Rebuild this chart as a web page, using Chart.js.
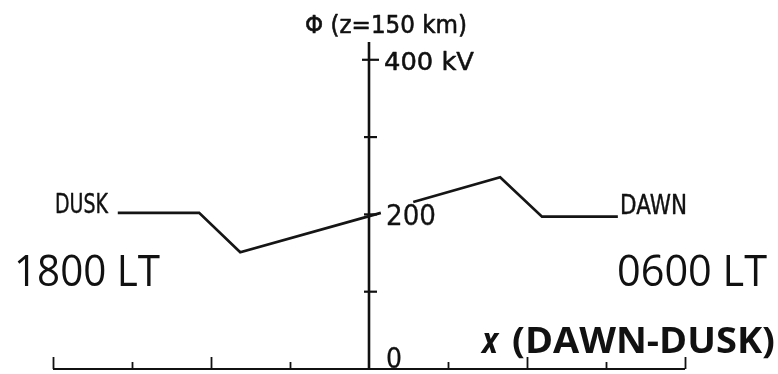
<!DOCTYPE html>
<html>
<head>
<meta charset="utf-8">
<script src="https://cdn.jsdelivr.net/npm/chart.js@4"></script>
<style>
  html, body { margin: 0; padding: 0; background: #fff; }
  #wrap { width: 778px; height: 374px; }
</style>
</head>
<body>
<div id="wrap"><canvas id="c" width="778" height="374"></canvas></div>
<script>
// Electric potential at z = 150 km along the dawn-dusk line (x in tick units, phi in kV)
const duskX   = [-3.18, -2.15, -1.63, 0.15];
const duskPhi = [202, 202, 151, 202];
const dawnX   = [0.56, 1.66, 2.19, 3.15];
const dawnPhi = [216, 248, 197, 197];

// Axis ticks
const xTicks      = [-4, -3, -2, -1, 1, 2, 3, 4];
const xMajorTicks = [-4, -2, 2, 4];
const yTicks      = [100, 200, 300, 400];
const yTickLabels = ['', '200', '', '400 kV'];

const toPoints = (xs, ys) => xs.map((x, i) => ({ x, y: ys[i] }));

// Draw text stretched/squeezed to a given width, left edge at x, baseline at y
function fitText(ctx, text, x, y, width, font, weight) {
  ctx.save();
  ctx.font = font;
  const w = ctx.measureText(text).width;
  ctx.translate(x, y);
  ctx.scale(width / w, 1);
  ctx.textBaseline = 'alphabetic';
  ctx.textAlign = 'left';
  ctx.fillText(text, 0, 0);
  if (weight) {
    // thicken the strokes of the hand-lettered labels
    ctx.lineWidth = weight;
    ctx.lineJoin = 'round';
    ctx.strokeStyle = ctx.fillStyle;
    ctx.strokeText(text, 0, 0);
  }
  ctx.restore();
}

const crossAxes = {
  id: 'crossAxes',
  beforeDatasetsDraw(chart) {
    const { ctx, scales: { x, y } } = chart;
    const x0 = x.getPixelForValue(0);
    const y0 = y.getPixelForValue(0);
    ctx.save();
    ctx.strokeStyle = '#111';
    // horizontal axis
    ctx.lineWidth = 2.2;
    ctx.beginPath();
    ctx.moveTo(x.getPixelForValue(-4), y0);
    ctx.lineTo(x.getPixelForValue(4), y0);
    ctx.stroke();
    // x ticks, pointing up
    xTicks.forEach(v => {
      const px = Math.round(x.getPixelForValue(v)) + 0.5;
      const len = xMajorTicks.includes(v) ? 12 : 7;
      ctx.lineWidth = 1.8;
      ctx.beginPath();
      ctx.moveTo(px, y0);
      ctx.lineTo(px, y0 - len);
      ctx.stroke();
    });
    // vertical axis
    ctx.lineWidth = 2.6;
    ctx.beginPath();
    ctx.moveTo(x0, y.getPixelForValue(y.max));
    ctx.lineTo(x0, y0);
    ctx.stroke();
    // y ticks, crossing the axis
    yTicks.forEach(v => {
      const py = y.getPixelForValue(v);
      const left = v === 400 ? 7 : 5;
      const right = v === 400 ? 10 : 8;
      ctx.lineWidth = 2.2;
      ctx.beginPath();
      ctx.moveTo(x0 - left, py);
      ctx.lineTo(x0 + right, py);
      ctx.stroke();
    });
    ctx.restore();
  },
  afterDraw(chart) {
    const { ctx, scales: { x, y } } = chart;
    const x0 = x.getPixelForValue(0);
    const lettering = 'DejaVu Sans';
    ctx.save();
    ctx.fillStyle = '#111';
    // axis title and tick values
    fitText(ctx, 'Φ (z=150 km)', 305, 33, 162, `24px "${lettering}"`, 0.6);
    fitText(ctx, yTickLabels[3], x0 + 15, y.getPixelForValue(400) + 10, 90, `24px "${lettering}"`, 0.5);
    fitText(ctx, yTickLabels[1], x0 + 17, y.getPixelForValue(200) + 11, 50, `28px "${lettering}"`, 0.3);
    fitText(ctx, '0', x0 + 17, y.getPixelForValue(0) - 1, 16, `28px "${lettering}"`, 0.3);
    // line end labels
    fitText(ctx, 'DUSK', 55, 213, 53, `26px "${lettering}"`, 0.4);
    fitText(ctx, 'DAWN', 620, 214, 67, `26px "${lettering}"`, 0.4);
    // local time labels
    fitText(ctx, '1800 LT', 14, 286, 146, '43px "Open Sans"');
    fitText(ctx, '0600 LT', 617, 286, 150, '43px "Open Sans"');
    // horizontal axis title
    fitText(ctx, 'x', 482, 353, 16, 'italic bold 35px "Open Sans"');
    fitText(ctx, '(DAWN-DUSK)', 512, 353, 263, 'bold 35px "Open Sans"');
    ctx.restore();
  }
};

new Chart(document.getElementById('c'), {
  type: 'line',
  data: {
    datasets: [
      { data: toPoints(duskX, duskPhi) },
      { data: toPoints(dawnX, dawnPhi) }
    ]
  },
  options: {
    responsive: false,
    animation: false,
    devicePixelRatio: 1,
    layout: { padding: { left: 53, right: 93, top: 42, bottom: 5 } },
    elements: {
      line: { borderColor: '#151515', borderWidth: 2.7, tension: 0, fill: false },
      point: { radius: 0 }
    },
    scales: {
      x: { type: 'linear', min: -4, max: 4, display: false },
      y: { type: 'linear', min: 0, max: 423, display: false }
    },
    plugins: { legend: { display: false }, tooltip: { enabled: false } }
  },
  plugins: [crossAxes]
});
</script>
</body>
</html>
